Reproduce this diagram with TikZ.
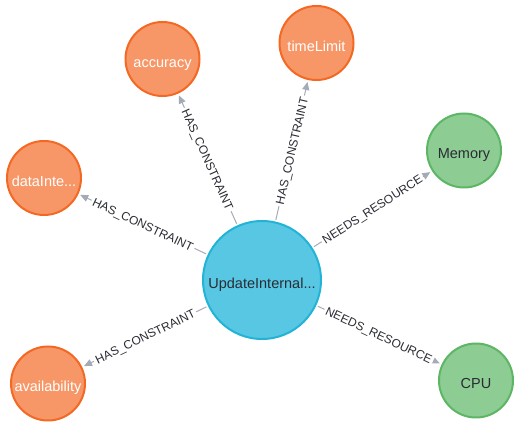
\documentclass[tikz,border=0pt]{standalone}
\usepackage{fontspec}
\setmainfont{Liberation Sans}
\usetikzlibrary{arrows.meta}
\definecolor{conFill}{HTML}{F79767}
\definecolor{conLine}{HTML}{F36924}
\definecolor{resFill}{HTML}{8DCC93}
\definecolor{resLine}{HTML}{5DB665}
\definecolor{taskFill}{HTML}{57C7E3}
\definecolor{taskLine}{HTML}{23B3D7}
\definecolor{relLine}{HTML}{A5ABB6}
\definecolor{darkText}{HTML}{2A2C34}
\begin{document}
\begin{tikzpicture}[x=1pt, y=-1pt, line cap=round, line join=round, >={Triangle[length=8pt,width=7pt]},
	ball/.style={circle, line width=2pt, inner sep=0pt, minimum size=74pt, text height=16.5pt, text depth=0pt, font=\fontsize{14.5}{16}\selectfont},
	constraint/.style={ball, draw=conLine, fill=conFill, text=white},
	resource/.style={ball, draw=resLine, fill=resFill, text=darkText},
	task/.style={ball, draw=taskLine, fill=taskFill, text=darkText, minimum size=118pt},
	rel/.style={->, draw=relLine, line width=1pt, shorten >=2pt, shorten <=2pt},
	rellabel/.style={sloped, fill=white, inner sep=2pt, text height=8.6pt, text depth=0pt, text=darkText, font=\fontsize{12}{13}\selectfont}]
				\useasboundingbox (0, 0) rectangle (520, 427);
				\node[task] (update) at (262, 280) {UpdateInternal...};
				\node[constraint] (accuracy) at (162.5, 59) {accuracy};
				\node[constraint] (timeLimit) at (316.5, 43) {timeLimit};
				\node[constraint] (dataInte) at (44, 178) {dataInte...};
				\node[constraint] (availability) at (48, 383.5) {availability};
				\node[resource] (memory) at (464, 150.5) {Memory};
				\node[resource] (cpu) at (476, 380.5) {CPU};
				\draw[rel] (update) -- node[rellabel] {HAS\_CONSTRAINT} (accuracy);
				\draw[rel] (update) -- node[rellabel] {HAS\_CONSTRAINT} (timeLimit);
				\draw[rel] (update) -- node[rellabel] {HAS\_CONSTRAINT} (dataInte);
				\draw[rel] (update) -- node[rellabel] {HAS\_CONSTRAINT} (availability);
				\draw[rel] (update) -- node[rellabel] {NEEDS\_RESOURCE} (memory);
				\draw[rel] (update) -- node[rellabel] {NEEDS\_RESOURCE} (cpu);
			\end{tikzpicture}
\end{document}
